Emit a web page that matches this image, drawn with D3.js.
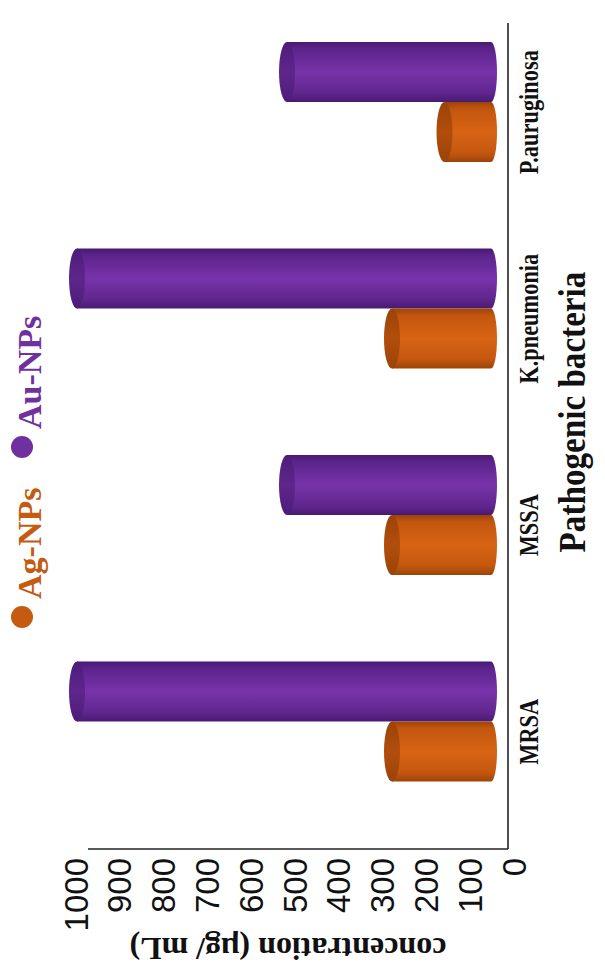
<!DOCTYPE html>
<html>
<head>
<meta charset="utf-8">
<script src="https://cdn.jsdelivr.net/npm/d3@7"></script>
<style>
  html, body { margin: 0; padding: 0; background: #fff; }
  svg { display: block; }
</style>
</head>
<body>
<svg id="chart" width="605" height="971"></svg>
<script>
// ---- data ----
const categories = ["MRSA", "MSSA", "K.pneumonia", "P.auruginosa"];
const seriesNames = ["Ag-NPs", "Au-NPs"];
const agValues = [250, 250, 250, 125];
const auValues = [1000, 500, 1000, 500];
const tickValues = [0, 100, 200, 300, 400, 500, 600, 700, 800, 900, 1000];
const axisTitle = "concentration (µg/ mL)";
const categoryTitle = "Pathogenic bacteria";

const svg = d3.select("#chart");
const W = 605, H = 971;
svg.append("rect").attr("width", W).attr("height", H).attr("fill", "#fff");

// chart is drawn rotated: categories run bottom->top, values right->left
const yBand = d3.scaleBand().domain(categories).range([849, 23]).paddingInner(0).paddingOuter(0);
const ySub = d3.scaleBand().domain(["Au-NPs", "Ag-NPs"]).range([19, 139]);
const depth = 11; // 3D wall offset
const xVal = d3.scaleLinear().domain([0, 1000]).range([497, 77]);
const xAxis = d3.scaleLinear().domain([0, 1000]).range([497 + depth, 77 + depth]);
const xTick = d3.scaleLinear().domain([0, 1000]).range([514, 76]);

const defs = svg.append("defs");
function grad(id, stops) {
  const g = defs.append("linearGradient").attr("id", id)
    .attr("x1", 0).attr("y1", 0).attr("x2", 0).attr("y2", 1);
  stops.forEach(s => g.append("stop").attr("offset", s[0]).attr("stop-color", s[1]));
}
grad("gAu", [[0, "#481a73"], [0.12, "#5c248c"], [0.5, "#7833aa"], [0.85, "#60268d"], [1, "#481a73"]]);
grad("gAg", [[0, "#9c4409"], [0.12, "#c3560f"], [0.5, "#d86415"], [0.85, "#c4570f"], [1, "#9c4409"]]);
grad("gAuCap", [[0, "#4c1c7a"], [0.5, "#5f268c"], [1, "#4c1c7a"]]);
grad("gAgCap", [[0, "#9a4309"], [0.5, "#b24e0c"], [1, "#9a4309"]]);

const colors = { "Ag-NPs": "#c55a11", "Au-NPs": "#7030a0" };

// axes lines
const axisG = svg.append("g").attr("stroke", "#222").attr("stroke-width", 1.6).attr("fill", "none");
axisG.append("line")
  .attr("x1", xAxis(0)).attr("x2", xAxis(0))
  .attr("y1", yBand.range()[1]).attr("y2", yBand.range()[0]);
axisG.append("line")
  .attr("x1", xAxis(1000)).attr("x2", xAxis(0))
  .attr("y1", yBand.range()[0]).attr("y2", yBand.range()[0]);

// bars
const rows = [];
categories.forEach((c, i) => {
  rows.push({ cat: c, s: "Au-NPs", v: auValues[i] });
  rows.push({ cat: c, s: "Ag-NPs", v: agValues[i] });
});
const capRx = 8, endRx = 6;
const barG = svg.append("g");
rows.forEach(d => {
  const top = yBand(d.cat) + ySub(d.s);
  const h = ySub.bandwidth();
  const bot = top + h;
  const xv = xVal(d.v), x0 = xVal(0);
  const ry = h / 2;
  const body = `M${xv},${top} L${x0 - endRx},${top} A${endRx},${ry} 0 0 1 ${x0 - endRx},${bot} L${xv},${bot} Z`;
  barG.append("path").attr("d", body).attr("fill", d.s === "Au-NPs" ? "url(#gAu)" : "url(#gAg)");
  barG.append("ellipse").attr("cx", xv).attr("cy", top + ry).attr("rx", capRx).attr("ry", ry)
    .attr("fill", d.s === "Au-NPs" ? "url(#gAuCap)" : "url(#gAgCap)");
});

// value tick labels (rotated)
const tickG = svg.append("g");
tickValues.forEach(t => {
  tickG.append("text")
    .attr("transform", `translate(${xTick(t)},858) rotate(-90)`)
    .attr("text-anchor", "end")
    .attr("dominant-baseline", "central")
    .attr("font-family", "Liberation Sans, Arial, sans-serif")
    .attr("font-size", 33)
    .attr("fill", "#111")
    .text(t);
});

// axis title (upside down)
svg.append("text")
  .attr("transform", `translate(288,949) rotate(180)`)
  .attr("text-anchor", "middle")
  .attr("dominant-baseline", "central")
  .attr("font-family", "Liberation Serif, Times New Roman, serif")
  .attr("font-weight", "bold")
  .attr("font-size", 32)
  .attr("fill", "#111")
  .text(axisTitle);

// category labels
categories.forEach(c => {
  svg.append("text")
    .attr("transform", `translate(528,${yBand(c) + yBand.bandwidth() / 2 - 14}) rotate(-90) scale(0.8,1)`)
    .attr("text-anchor", "middle")
    .attr("dominant-baseline", "central")
    .attr("font-family", "Liberation Serif, Times New Roman, serif")
    .attr("font-weight", "bold")
    .attr("font-size", 28)
    .attr("fill", "#111")
    .text(c);
});

// category title
svg.append("text")
  .attr("transform", `translate(572,412) rotate(-90) scale(0.85,1)`)
  .attr("text-anchor", "middle")
  .attr("dominant-baseline", "central")
  .attr("font-family", "Liberation Serif, Times New Roman, serif")
  .attr("font-weight", "bold")
  .attr("font-size", 39)
  .attr("fill", "#111")
  .text(categoryTitle);

// legend
const legendPos = { "Ag-NPs": 617, "Au-NPs": 447 };
seriesNames.forEach(s => {
  const y = legendPos[s];
  svg.append("circle").attr("cx", 22).attr("cy", y).attr("r", 11).attr("fill", colors[s]);
  svg.append("text")
    .attr("transform", `translate(29,${y - 18}) rotate(-90)`)
    .attr("text-anchor", "start")
    .attr("dominant-baseline", "central")
    .attr("font-family", "Liberation Serif, Times New Roman, serif")
    .attr("font-weight", "bold")
    .attr("font-size", 34)
    .attr("fill", colors[s])
    .text(s);
});
</script>
</body>
</html>
